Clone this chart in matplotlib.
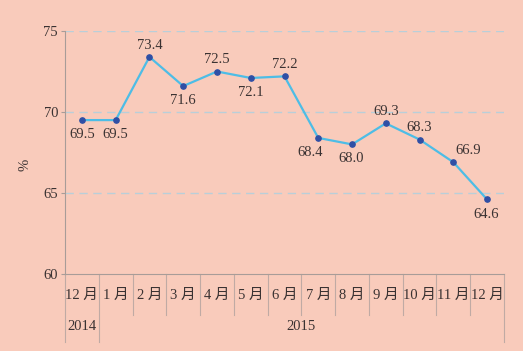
import matplotlib
matplotlib.use("Agg")
import matplotlib.pyplot as plt
from matplotlib.patches import Rectangle

plt.rcParams['font.family'] = ['Liberation Serif', 'Noto Sans CJK SC']

# 数据
months = ["12 月", "1 月", "2 月", "3 月", "4 月", "5 月", "6 月",
          "7 月", "8 月", "9 月", "10 月", "11 月", "12 月"]
years = ["2014", "2015"]
values = [69.5, 69.5, 73.4, 71.6, 72.5, 72.1, 72.2,
          68.4, 68.0, 69.3, 68.3, 66.9, 64.6]
# 标签位置: 1 = 上, -1 = 下
label_side = [-1, -1, 1, -1, 1, -1, 1, -1, -1, 1, 1, 1, -1]
label_dx = [0, 0, 0, 0, 0, 0, 0, -6, -1, 0, 0, 11, -1]

bg = "#f9cbbb"
txt = "#3a3232"
gray = "#a89c98"

fig = plt.figure(figsize=(5.23, 3.54), dpi=100, facecolor=bg)
fig.patches.append(Rectangle((0, 0), 1, 3/354, transform=fig.transFigure,
                             facecolor="white", edgecolor="none"))
ax = fig.add_axes([65/523, 1-274/354, (504-65)/523, (274-31)/354])
ax.set_facecolor(bg)

x = list(range(len(values)))
ax.plot(x, values, color="#4dbde6", lw=1.6, zorder=3)
ax.plot(x, values, "o", color="#2f4fa5", ms=3.8, zorder=4)

for i, v in enumerate(values):
    dy = 8.5 if label_side[i] > 0 else -10.5
    ax.annotate(f"{v:.1f}", (i, v), xytext=(label_dx[i], dy),
                textcoords="offset points", ha="center", va="center",
                fontsize=10.5, color=txt)

ax.set_xlim(-0.5, len(values) - 0.5)
ax.set_ylim(60, 75)
ax.set_yticks([60, 65, 70, 75])
for yv in [65, 70, 75]:
    ax.axhline(yv, color="#b9cfd9", lw=1, ls=(0, (6, 4)), zorder=1)

ax.tick_params(axis="y", length=3, width=0.8, color=gray, pad=2,
               labelsize=10.5, labelcolor=txt)
ax.set_xticks([])
for s in ["top", "right"]:
    ax.spines[s].set_visible(False)
for s in ["left", "bottom"]:
    ax.spines[s].set_color(gray)
    ax.spines[s].set_linewidth(0.8)

# 分类轴标签与分隔线
tr = ax.get_xaxis_transform()
for i, m in enumerate(months):
    ax.text(i, -0.09, m, transform=tr, ha="center", va="center",
            fontsize=10.5, color=txt)
for b in range(len(values) + 1):
    bx = b - 0.5
    low = -0.28 if b in (0, 1, len(values)) else -0.169
    ax.plot([bx, bx], [0, low], transform=tr, color="#c0aaa4",
            lw=0.8, clip_on=False)
ax.text(0, -0.214, years[0], transform=tr, ha="center", va="center",
        fontsize=10.5, color=txt)
ax.text((1 + len(values) - 1) / 2, -0.214, years[1], transform=tr,
        ha="center", va="center", fontsize=10.5, color=txt)

fig.text(25/523, 1-165/354, "%", rotation=90, ha="center", va="center",
         fontsize=10.5, color=txt)

fig.savefig("out.png", dpi=100, facecolor=bg)
